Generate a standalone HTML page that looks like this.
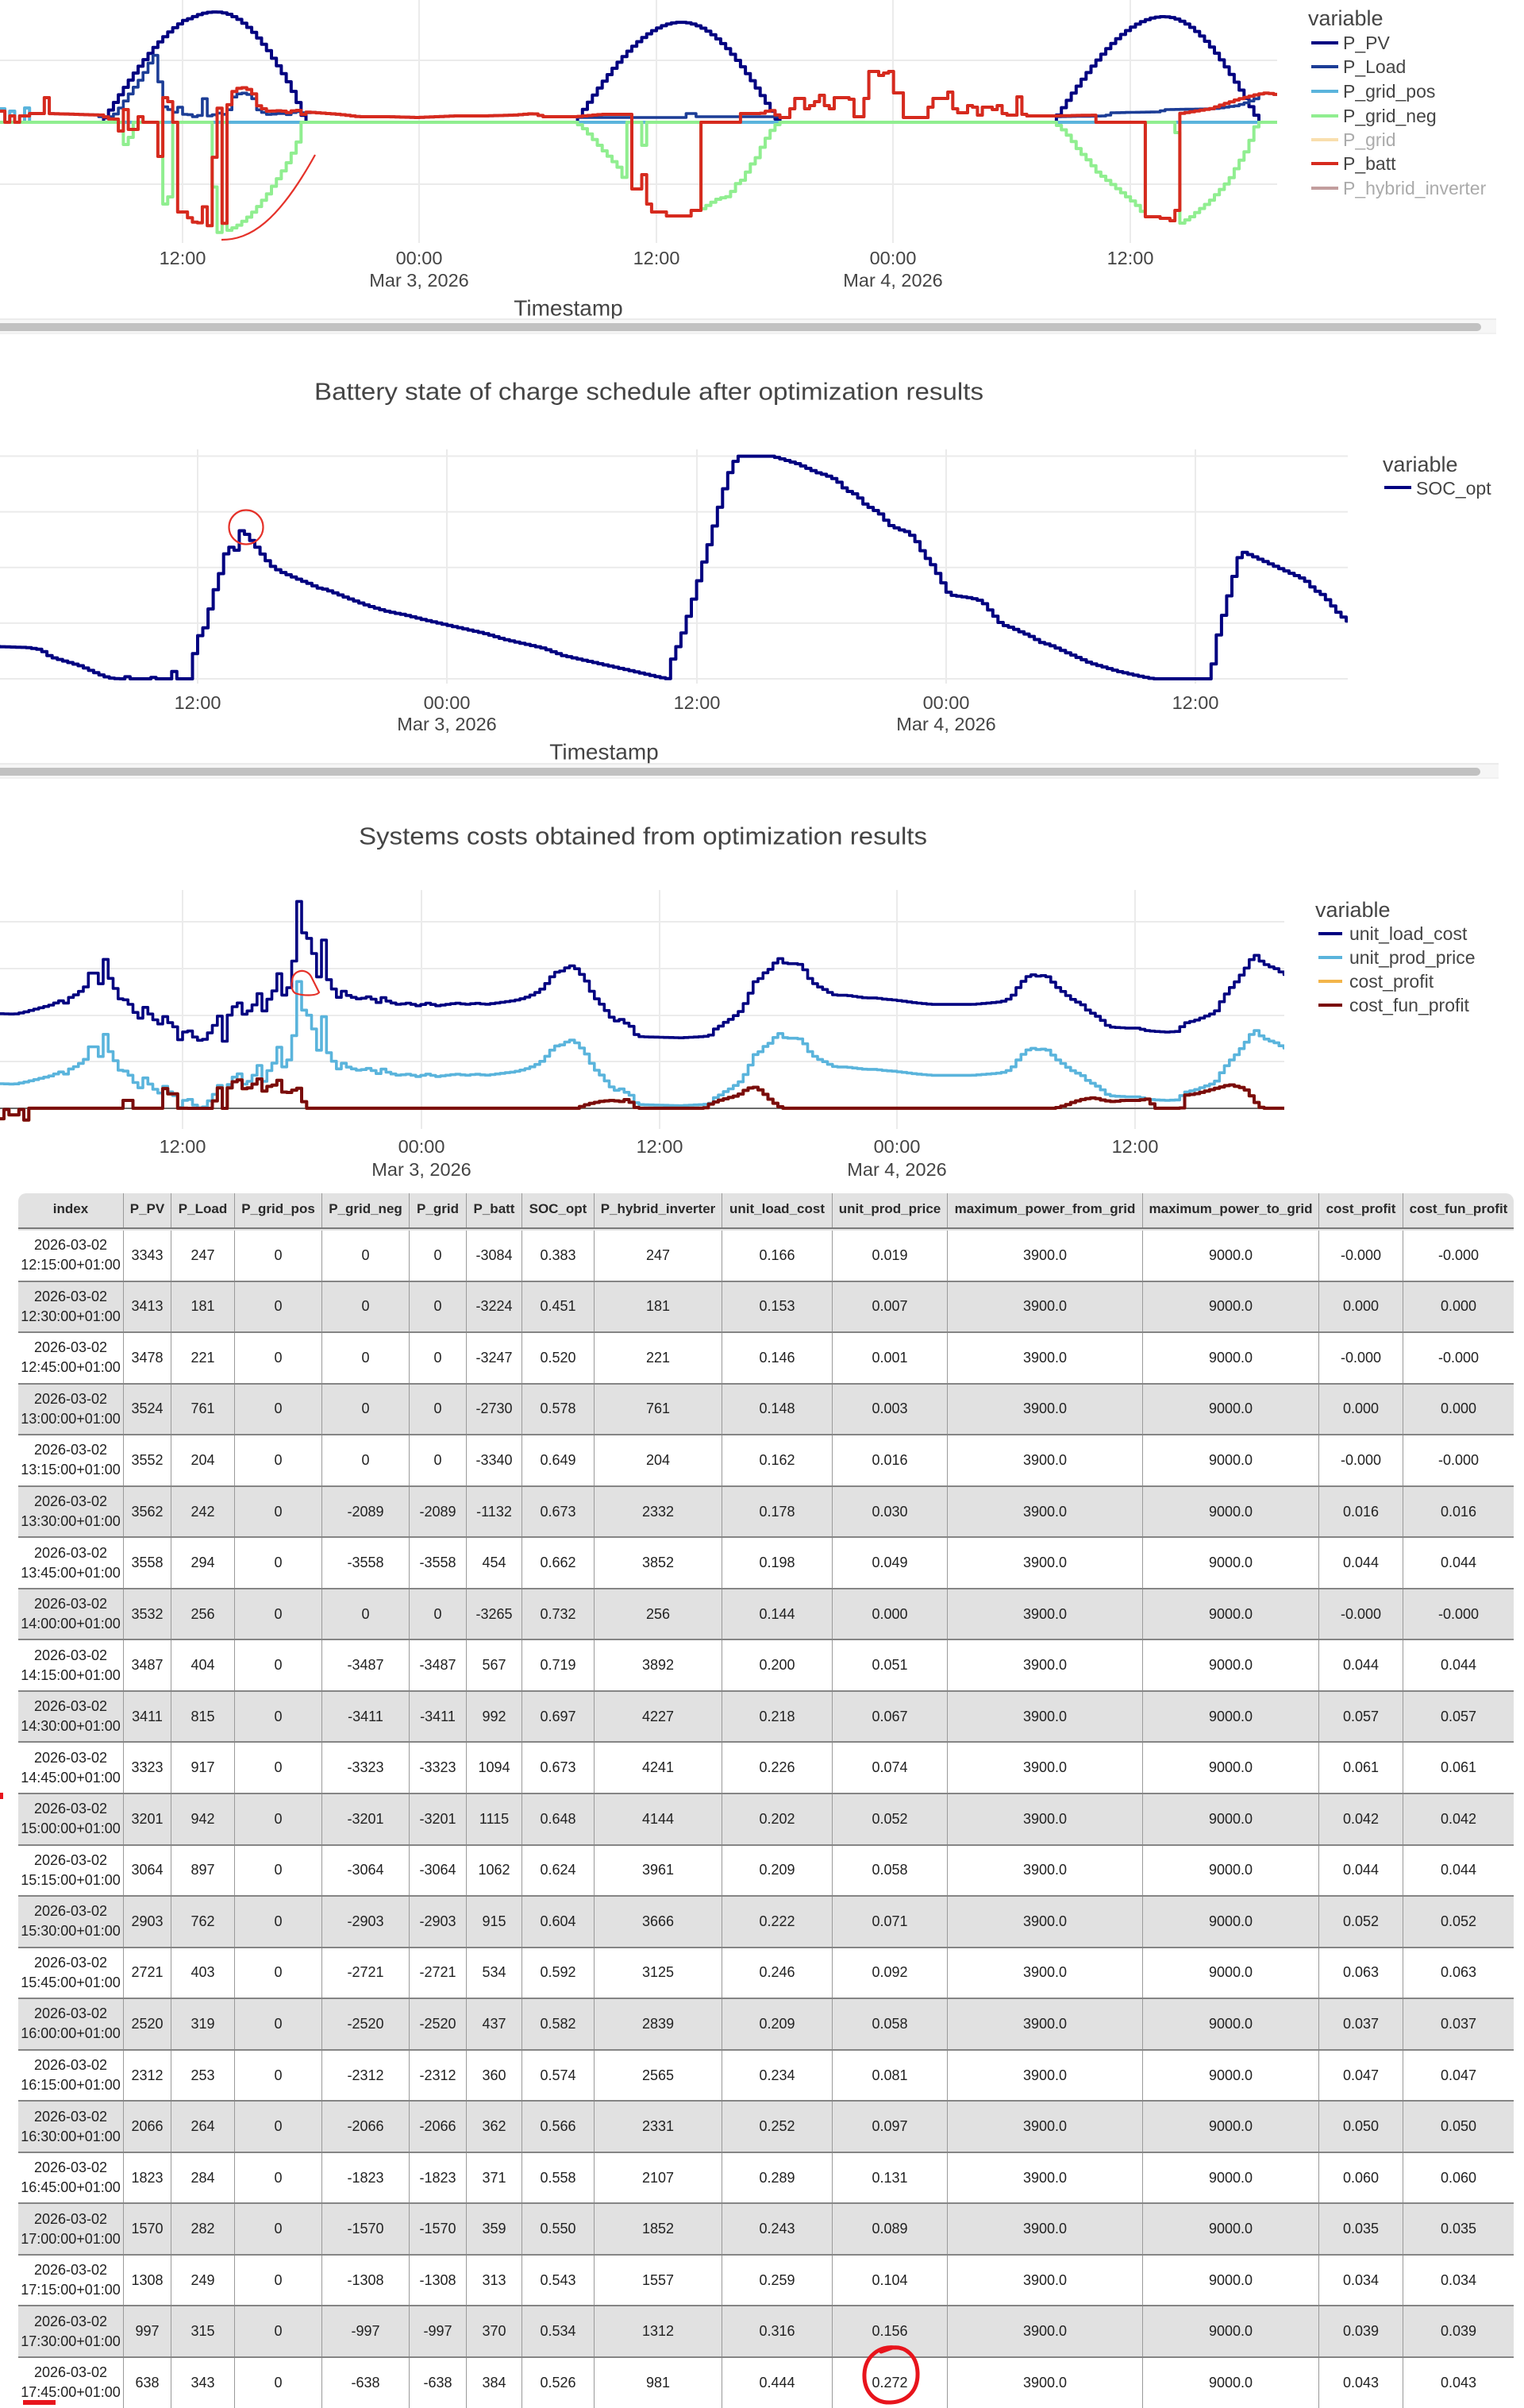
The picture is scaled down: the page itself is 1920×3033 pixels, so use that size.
<!DOCTYPE html>
<html><head><meta charset="utf-8">
<style>
html,body{margin:0;padding:0;background:#fff;}
body{width:1920px;height:3029px;overflow:hidden;position:relative;font-family:"Liberation Sans",Arial,sans-serif;}
#hd{position:absolute;left:23px;top:1503px;width:1884px;height:45px;background:#e2e2e2;border-radius:10px 10px 0 0;border-bottom:2px solid #7a7a7a;box-sizing:border-box;display:flex;font-weight:bold;font-size:17px;color:#2a2a2a;}
#hd i{padding-bottom:5px;}
#rows{position:absolute;left:23px;top:1548px;width:1884px;font-size:18px;color:#222;}
.r{height:64.55px;display:flex;box-sizing:border-box;border-top:2px solid #858585;}
.r:first-child{border-top:2px solid #e4e4e4;}
.r:nth-child(even){background:#e1e1e1;}
.r i,#hd i{font-style:normal;display:flex;align-items:center;justify-content:center;text-align:center;box-sizing:border-box;border-left:1px solid #9a9a9a;line-height:25px;white-space:nowrap;}
.r i:first-child,#hd i:first-child{border-left:none;}
.r i:nth-child(1),#hd i:nth-child(1){width:132px}
.r i:nth-child(2),#hd i:nth-child(2){width:60px}
.r i:nth-child(3),#hd i:nth-child(3){width:80px}
.r i:nth-child(4),#hd i:nth-child(4){width:110px}
.r i:nth-child(5),#hd i:nth-child(5){width:110px}
.r i:nth-child(6),#hd i:nth-child(6){width:72px}
.r i:nth-child(7),#hd i:nth-child(7){width:70px}
.r i:nth-child(8),#hd i:nth-child(8){width:91px}
.r i:nth-child(9),#hd i:nth-child(9){width:161px}
.r i:nth-child(10),#hd i:nth-child(10){width:139px}
.r i:nth-child(11),#hd i:nth-child(11){width:145px}
.r i:nth-child(12),#hd i:nth-child(12){width:246px}
.r i:nth-child(13),#hd i:nth-child(13){width:222px}
.r i:nth-child(14),#hd i:nth-child(14){width:106px}
.r i:nth-child(15),#hd i:nth-child(15){width:140px}
</style></head><body>

<svg id="sv" width="1920" height="1500" viewBox="0 0 1920 1500" style="position:absolute;left:0;top:0" font-family="'Liberation Sans', Arial, sans-serif">
<defs>
<clipPath id="c1"><rect x="0" y="0" width="1609" height="306"/></clipPath>
<clipPath id="c2"><rect x="0" y="556" width="1698" height="310"/></clipPath>
<clipPath id="c3"><rect x="0" y="1115" width="1618" height="310"/></clipPath>
</defs>
<g stroke="#ebebeb" stroke-width="2" fill="none">
<line x1="0" y1="76" x2="1609" y2="76"/><line x1="0" y1="232" x2="1609" y2="232"/>
<line x1="230" y1="0" x2="230" y2="306"/><line x1="528" y1="0" x2="528" y2="306"/><line x1="827" y1="0" x2="827" y2="306"/><line x1="1125" y1="0" x2="1125" y2="306"/><line x1="1424" y1="0" x2="1424" y2="306"/>
<line x1="0" y1="574.5" x2="1698" y2="574.5"/><line x1="0" y1="644.6" x2="1698" y2="644.6"/><line x1="0" y1="714.8" x2="1698" y2="714.8"/><line x1="0" y1="784.9" x2="1698" y2="784.9"/><line x1="0" y1="855" x2="1698" y2="855"/>
<line x1="249" y1="566" x2="249" y2="861"/><line x1="563" y1="566" x2="563" y2="861"/><line x1="878" y1="566" x2="878" y2="861"/><line x1="1192" y1="566" x2="1192" y2="861"/><line x1="1506" y1="566" x2="1506" y2="861"/>
<line x1="0" y1="1161" x2="1618" y2="1161"/><line x1="0" y1="1220" x2="1618" y2="1220"/><line x1="0" y1="1279" x2="1618" y2="1279"/><line x1="0" y1="1337" x2="1618" y2="1337"/>
<line x1="230" y1="1121" x2="230" y2="1422"/><line x1="531" y1="1121" x2="531" y2="1422"/><line x1="831" y1="1121" x2="831" y2="1422"/><line x1="1130" y1="1121" x2="1130" y2="1422"/><line x1="1430" y1="1121" x2="1430" y2="1422"/>
</g>
<line x1="0" y1="1396" x2="1618" y2="1396" stroke="#6a6a6a" stroke-width="2"/>

<g id="g1" clip-path="url(#c1)" stroke-linejoin="round"></g>
<g id="g2" clip-path="url(#c2)" stroke-linejoin="round"></g>
<g id="g3" clip-path="url(#c3)" stroke-linejoin="round"></g>

<g fill="#444" font-size="23.5" text-anchor="middle" dominant-baseline="central">
<text x="230" y="325">12:00</text>
<text x="528" y="325">00:00</text><text x="528" y="353">Mar 3, 2026</text>
<text x="827" y="325">12:00</text>
<text x="1125" y="325">00:00</text><text x="1125" y="353">Mar 4, 2026</text>
<text x="1424" y="325">12:00</text>
<text x="716" y="388" font-size="28">Timestamp</text>

<text x="249" y="885">12:00</text>
<text x="563" y="885">00:00</text><text x="563" y="912">Mar 3, 2026</text>
<text x="878" y="885">12:00</text>
<text x="1192" y="885">00:00</text><text x="1192" y="912">Mar 4, 2026</text>
<text x="1506" y="885">12:00</text>
<text x="761" y="947" font-size="28">Timestamp</text>

<text x="230" y="1444">12:00</text>
<text x="531" y="1444">00:00</text><text x="531" y="1473">Mar 3, 2026</text>
<text x="831" y="1444">12:00</text>
<text x="1130" y="1444">00:00</text><text x="1130" y="1473">Mar 4, 2026</text>
<text x="1430" y="1444">12:00</text>
</g>

<g fill="#444" font-size="31" dominant-baseline="central">
<text x="396" y="493" textLength="843" lengthAdjust="spacingAndGlyphs">Battery state of charge schedule after optimization results</text>
<text x="452" y="1053" textLength="716" lengthAdjust="spacingAndGlyphs">Systems costs obtained from optimization results</text>
</g>

<g fill="#444" font-size="23" dominant-baseline="central">
<text x="1648" y="23" font-size="27">variable</text>
<line x1="1652" y1="54" x2="1686" y2="54" stroke="#000080" stroke-width="4"/><text x="1692" y="54">P_PV</text>
<line x1="1652" y1="84" x2="1686" y2="84" stroke="#1c3d96" stroke-width="4"/><text x="1692" y="84">P_Load</text>
<line x1="1652" y1="115" x2="1686" y2="115" stroke="#5ab4dc" stroke-width="4"/><text x="1692" y="115">P_grid_pos</text>
<line x1="1652" y1="146" x2="1686" y2="146" stroke="#90ee90" stroke-width="4"/><text x="1692" y="146">P_grid_neg</text>
<g opacity="0.45"><line x1="1652" y1="176" x2="1686" y2="176" stroke="#f2b84b" stroke-width="4"/><text x="1692" y="176">P_grid</text></g>
<line x1="1652" y1="206" x2="1686" y2="206" stroke="#d62a1e" stroke-width="4"/><text x="1692" y="206">P_batt</text>
<g opacity="0.45"><line x1="1652" y1="237" x2="1686" y2="237" stroke="#7a2a2a" stroke-width="4"/><text x="1692" y="237">P_hybrid_inverter</text></g>

<text x="1742" y="585" font-size="27">variable</text>
<line x1="1744" y1="614" x2="1778" y2="614" stroke="#000080" stroke-width="4"/><text x="1784" y="615">SOC_opt</text>

<text x="1657" y="1146" font-size="27">variable</text>
<line x1="1661" y1="1176" x2="1691" y2="1176" stroke="#000080" stroke-width="4"/><text x="1700" y="1176">unit_load_cost</text>
<line x1="1661" y1="1206" x2="1691" y2="1206" stroke="#5ab4dc" stroke-width="4"/><text x="1700" y="1206">unit_prod_price</text>
<line x1="1661" y1="1236" x2="1691" y2="1236" stroke="#f3b54a" stroke-width="4"/><text x="1700" y="1236">cost_profit</text>
<line x1="1661" y1="1266" x2="1691" y2="1266" stroke="#7a0c0c" stroke-width="4"/><text x="1700" y="1266">cost_fun_profit</text>
</g>

<rect x="0" y="402" width="1885" height="18" fill="#f6f6f6"/>
<line x1="0" y1="402" x2="1885" y2="402" stroke="#e6e6e6" stroke-width="1.5"/>
<line x1="0" y1="420" x2="1885" y2="420" stroke="#eeeeee" stroke-width="1.5"/>
<rect x="-6" y="407" width="1872" height="10" rx="5" fill="#c1c1c1"/>
<rect x="0" y="962" width="1888" height="18" fill="#f6f6f6"/>
<line x1="0" y1="962" x2="1888" y2="962" stroke="#e6e6e6" stroke-width="1.5"/>
<line x1="0" y1="980" x2="1888" y2="980" stroke="#eeeeee" stroke-width="1.5"/>
<rect x="-6" y="967" width="1871" height="10" rx="5" fill="#c1c1c1"/>

<path d="M279,302 C315,302 350,280 397,195" fill="none" stroke="#e5322a" stroke-width="2.2"/>
<circle cx="310" cy="664" r="21.5" fill="none" stroke="#e5322a" stroke-width="2.2"/>
<path d="M368,1236 C368,1222 385,1218 392,1230 L402,1250 C398,1255 380,1254 372,1251 C367,1248 367,1240 368,1236 Z" fill="none" stroke="#e5322a" stroke-width="2.2"/>
</svg>

<div id="hd"><i>index</i><i>P_PV</i><i>P_Load</i><i>P_grid_pos</i><i>P_grid_neg</i><i>P_grid</i><i>P_batt</i><i>SOC_opt</i><i>P_hybrid_inverter</i><i>unit_load_cost</i><i>unit_prod_price</i><i>maximum_power_from_grid</i><i>maximum_power_to_grid</i><i>cost_profit</i><i>cost_fun_profit</i></div>
<div id="rows">
<div class="r"><i>2026-03-02<br>12:15:00+01:00</i><i>3343</i><i>247</i><i>0</i><i>0</i><i>0</i><i>-3084</i><i>0.383</i><i>247</i><i>0.166</i><i>0.019</i><i>3900.0</i><i>9000.0</i><i>-0.000</i><i>-0.000</i></div>
<div class="r"><i>2026-03-02<br>12:30:00+01:00</i><i>3413</i><i>181</i><i>0</i><i>0</i><i>0</i><i>-3224</i><i>0.451</i><i>181</i><i>0.153</i><i>0.007</i><i>3900.0</i><i>9000.0</i><i>0.000</i><i>0.000</i></div>
<div class="r"><i>2026-03-02<br>12:45:00+01:00</i><i>3478</i><i>221</i><i>0</i><i>0</i><i>0</i><i>-3247</i><i>0.520</i><i>221</i><i>0.146</i><i>0.001</i><i>3900.0</i><i>9000.0</i><i>-0.000</i><i>-0.000</i></div>
<div class="r"><i>2026-03-02<br>13:00:00+01:00</i><i>3524</i><i>761</i><i>0</i><i>0</i><i>0</i><i>-2730</i><i>0.578</i><i>761</i><i>0.148</i><i>0.003</i><i>3900.0</i><i>9000.0</i><i>0.000</i><i>0.000</i></div>
<div class="r"><i>2026-03-02<br>13:15:00+01:00</i><i>3552</i><i>204</i><i>0</i><i>0</i><i>0</i><i>-3340</i><i>0.649</i><i>204</i><i>0.162</i><i>0.016</i><i>3900.0</i><i>9000.0</i><i>-0.000</i><i>-0.000</i></div>
<div class="r"><i>2026-03-02<br>13:30:00+01:00</i><i>3562</i><i>242</i><i>0</i><i>-2089</i><i>-2089</i><i>-1132</i><i>0.673</i><i>2332</i><i>0.178</i><i>0.030</i><i>3900.0</i><i>9000.0</i><i>0.016</i><i>0.016</i></div>
<div class="r"><i>2026-03-02<br>13:45:00+01:00</i><i>3558</i><i>294</i><i>0</i><i>-3558</i><i>-3558</i><i>454</i><i>0.662</i><i>3852</i><i>0.198</i><i>0.049</i><i>3900.0</i><i>9000.0</i><i>0.044</i><i>0.044</i></div>
<div class="r"><i>2026-03-02<br>14:00:00+01:00</i><i>3532</i><i>256</i><i>0</i><i>0</i><i>0</i><i>-3265</i><i>0.732</i><i>256</i><i>0.144</i><i>0.000</i><i>3900.0</i><i>9000.0</i><i>-0.000</i><i>-0.000</i></div>
<div class="r"><i>2026-03-02<br>14:15:00+01:00</i><i>3487</i><i>404</i><i>0</i><i>-3487</i><i>-3487</i><i>567</i><i>0.719</i><i>3892</i><i>0.200</i><i>0.051</i><i>3900.0</i><i>9000.0</i><i>0.044</i><i>0.044</i></div>
<div class="r"><i>2026-03-02<br>14:30:00+01:00</i><i>3411</i><i>815</i><i>0</i><i>-3411</i><i>-3411</i><i>992</i><i>0.697</i><i>4227</i><i>0.218</i><i>0.067</i><i>3900.0</i><i>9000.0</i><i>0.057</i><i>0.057</i></div>
<div class="r"><i>2026-03-02<br>14:45:00+01:00</i><i>3323</i><i>917</i><i>0</i><i>-3323</i><i>-3323</i><i>1094</i><i>0.673</i><i>4241</i><i>0.226</i><i>0.074</i><i>3900.0</i><i>9000.0</i><i>0.061</i><i>0.061</i></div>
<div class="r"><i>2026-03-02<br>15:00:00+01:00</i><i>3201</i><i>942</i><i>0</i><i>-3201</i><i>-3201</i><i>1115</i><i>0.648</i><i>4144</i><i>0.202</i><i>0.052</i><i>3900.0</i><i>9000.0</i><i>0.042</i><i>0.042</i></div>
<div class="r"><i>2026-03-02<br>15:15:00+01:00</i><i>3064</i><i>897</i><i>0</i><i>-3064</i><i>-3064</i><i>1062</i><i>0.624</i><i>3961</i><i>0.209</i><i>0.058</i><i>3900.0</i><i>9000.0</i><i>0.044</i><i>0.044</i></div>
<div class="r"><i>2026-03-02<br>15:30:00+01:00</i><i>2903</i><i>762</i><i>0</i><i>-2903</i><i>-2903</i><i>915</i><i>0.604</i><i>3666</i><i>0.222</i><i>0.071</i><i>3900.0</i><i>9000.0</i><i>0.052</i><i>0.052</i></div>
<div class="r"><i>2026-03-02<br>15:45:00+01:00</i><i>2721</i><i>403</i><i>0</i><i>-2721</i><i>-2721</i><i>534</i><i>0.592</i><i>3125</i><i>0.246</i><i>0.092</i><i>3900.0</i><i>9000.0</i><i>0.063</i><i>0.063</i></div>
<div class="r"><i>2026-03-02<br>16:00:00+01:00</i><i>2520</i><i>319</i><i>0</i><i>-2520</i><i>-2520</i><i>437</i><i>0.582</i><i>2839</i><i>0.209</i><i>0.058</i><i>3900.0</i><i>9000.0</i><i>0.037</i><i>0.037</i></div>
<div class="r"><i>2026-03-02<br>16:15:00+01:00</i><i>2312</i><i>253</i><i>0</i><i>-2312</i><i>-2312</i><i>360</i><i>0.574</i><i>2565</i><i>0.234</i><i>0.081</i><i>3900.0</i><i>9000.0</i><i>0.047</i><i>0.047</i></div>
<div class="r"><i>2026-03-02<br>16:30:00+01:00</i><i>2066</i><i>264</i><i>0</i><i>-2066</i><i>-2066</i><i>362</i><i>0.566</i><i>2331</i><i>0.252</i><i>0.097</i><i>3900.0</i><i>9000.0</i><i>0.050</i><i>0.050</i></div>
<div class="r"><i>2026-03-02<br>16:45:00+01:00</i><i>1823</i><i>284</i><i>0</i><i>-1823</i><i>-1823</i><i>371</i><i>0.558</i><i>2107</i><i>0.289</i><i>0.131</i><i>3900.0</i><i>9000.0</i><i>0.060</i><i>0.060</i></div>
<div class="r"><i>2026-03-02<br>17:00:00+01:00</i><i>1570</i><i>282</i><i>0</i><i>-1570</i><i>-1570</i><i>359</i><i>0.550</i><i>1852</i><i>0.243</i><i>0.089</i><i>3900.0</i><i>9000.0</i><i>0.035</i><i>0.035</i></div>
<div class="r"><i>2026-03-02<br>17:15:00+01:00</i><i>1308</i><i>249</i><i>0</i><i>-1308</i><i>-1308</i><i>313</i><i>0.543</i><i>1557</i><i>0.259</i><i>0.104</i><i>3900.0</i><i>9000.0</i><i>0.034</i><i>0.034</i></div>
<div class="r"><i>2026-03-02<br>17:30:00+01:00</i><i>997</i><i>315</i><i>0</i><i>-997</i><i>-997</i><i>370</i><i>0.534</i><i>1312</i><i>0.316</i><i>0.156</i><i>3900.0</i><i>9000.0</i><i>0.039</i><i>0.039</i></div>
<div class="r"><i>2026-03-02<br>17:45:00+01:00</i><i>638</i><i>343</i><i>0</i><i>-638</i><i>-638</i><i>384</i><i>0.526</i><i>981</i><i>0.444</i><i>0.272</i><i>3900.0</i><i>9000.0</i><i>0.043</i><i>0.043</i></div>
</div>

<svg width="1920" height="3029" style="position:absolute;left:0;top:0;pointer-events:none">
<rect x="0" y="2258" width="4" height="8" fill="#e8141c"/>
<rect x="29" y="3023" width="41" height="6" fill="#e8141c"/>
<path d="M1128,2957 C1108,2954 1090,2968 1089,2990 C1088,3012 1102,3027 1122,3026 C1144,3025 1157,3010 1156,2988 C1155,2968 1142,2955 1124,2957 L1110,2962" fill="none" stroke="#e8141c" stroke-width="5" stroke-linecap="round"/>
</svg>

<script>
(function(){
var NS='http://www.w3.org/2000/svg';
function interp(p,x){var n=p.length;if(x<=p[0][0])return p[0][1];if(x>=p[n-1][0])return p[n-1][1];for(var i=n-2;i>=0;i--){if(p[i][0]<=x){var a=p[i],b=p[i+1];if(b[0]===a[0])return b[1];return a[1]+(b[1]-a[1])*(x-a[0])/(b[0]-a[0]);}}return p[0][1];}
function H(l){var o=[];for(var i=0;i<l.length;i++){o.push([l[i][0],l[i][1]]);if(i<l.length-1)o.push([l[i+1][0],l[i][1]]);}return o;}
function cat(){var o=[];for(var i=0;i<arguments.length;i++)o=o.concat(arguments[i]);return o;}
function build(x12,dx,K,k0,k1,f,over){var d='';for(var k=k0;k<=k1;k++){var xs=x12+(k-K)*dx;var y=(over&&over[k]!==undefined)?over[k]:f(xs+dx/2);d+=(k===k0?'M'+xs.toFixed(1)+','+y.toFixed(1):'H'+xs.toFixed(1)+'V'+y.toFixed(1));}d+='H'+(x12+(k1+1-K)*dx).toFixed(1);return d;}
function add(g,d,c,w,op){var p=document.createElementNS(NS,'path');p.setAttribute('d',d);p.setAttribute('fill','none');p.setAttribute('stroke',c);p.setAttribute('stroke-width',w);if(op)p.setAttribute('opacity',op);document.getElementById(g).appendChild(p);}
function tab(a,K0,cv){var o={};for(var j=0;j<a.length;j++)o[K0+j]=cv(a[j]);return o;}

var PV=[3343,3413,3478,3524,3552,3562,3558,3532,3487,3411,3323,3201,3064,2903,2721,2520,2312,2066,1823,1570,1308,997,638];
var LD=[247,181,221,761,204,242,294,256,404,815,917,942,897,762,403,319,253,264,284,282,249,315,343];
var GN=[0,0,0,0,0,-2089,-3558,0,-3487,-3411,-3323,-3201,-3064,-2903,-2721,-2520,-2312,-2066,-1823,-1570,-1308,-997,-638];
var BT=[-3084,-3224,-3247,-2730,-3340,-1132,454,-3265,567,992,1094,1115,1062,915,534,437,360,362,371,359,313,370,384];
var SOC=[0.383,0.451,0.520,0.578,0.649,0.673,0.662,0.732,0.719,0.697,0.673,0.648,0.624,0.604,0.592,0.582,0.574,0.566,0.558,0.550,0.543,0.534,0.526];
var ULC=[0.166,0.153,0.146,0.148,0.162,0.178,0.198,0.144,0.200,0.218,0.226,0.202,0.209,0.222,0.246,0.209,0.234,0.252,0.289,0.243,0.259,0.316,0.444];
var UPP=[0.019,0.007,0.001,0.003,0.016,0.030,0.049,0.000,0.051,0.067,0.074,0.052,0.058,0.071,0.092,0.058,0.081,0.097,0.131,0.089,0.104,0.156,0.272];
var CFP=[0,0,0,0,0,0.016,0.044,0,0.044,0.057,0.061,0.042,0.044,0.052,0.063,0.037,0.047,0.050,0.060,0.035,0.034,0.039,0.043];

var Y1=function(w){return 154-0.039*w;};
var arches=[[130,270,387,14],[726,859,982,28],[1328,1467,1588,21]];
function pvY(x){for(var i=0;i<3;i++){var a=arches[i];if(x>=a[0]&&x<=a[2]){var f=x<a[1]?Math.sin(Math.PI/2*(x-a[0])/(a[1]-a[0])):Math.sin(Math.PI/2*(a[2]-x)/(a[2]-a[1]));return 154-(154-a[3])*f;}}return 154;}
var batt1=cat(
 H([[-10,140],[4,154],[10,146],[16,154],[25,146],[38,143],[55,123],[62,143]]),
 [[130,145],[135,148]],
 H([[140,150],[147,165],[153,138],[160,154],[163,163],[173,147],[180,154],[197,197],[204,123],[210,128],[215,143],[220,154],[223,267],[236,267]]),
 [[386,141],[428,144],[453,147],[490,147],[526,148],[575,146],[612,146],[649,145],[673,143],[686,147],[726,147],[760,144],[794,144]],
 H([[794,238],[806,220],[815,257],[824,267],[842,272],[871,265],[883,154],[924,140],[927,154],[933,143],[960,143]]),
 [[972,138]],
 H([[983,148],[995,137],[1001,124],[1013,137],[1019,133],[1024.5,128],[1030,120],[1036,133],[1042,137],[1054,123],[1072,125],[1078,147],[1089,124],[1095,90],[1107,95],[1113,92],[1119,98],[1122,90],[1128,117],[1140,148],[1172,135],[1178,124],[1196,116],[1201.5,137],[1207,142],[1219,133],[1225,135],[1234,145],[1240,135],[1249,138],[1257.5,133],[1263,143],[1269,145],[1284,122],[1290,144],[1296,146]]),
 [[1328,146],[1381,145]],
 H([[1381,154],[1446,273],[1461,275],[1473,278],[1482,265],[1488,143]]),
 [[1526,137],[1561,125],[1573,122],[1585,119],[1597,117],[1625,122]]
);
var L0=[[125,147],[140,147],[147,143],[153,135],[160,125],[167,115],[173,107],[180,97],[187,85],[193,72],[199,67],[201,67],[202,103],[205,133],[213,137],[220,142],[227,135],[233,144],[390,142]];
var L1=H([[726,148],[866,143],[877,147],[983,147]]);
var L2=[[1328,147],[1395,146],[1400,142],[1460,141],[1470,138],[1530,137],[1560,133],[1575,128],[1588,122]];
function loadY(x){if(x>=125&&x<=390)return interp(L0,x);if(x>=726&&x<=983)return interp(L1,x);if(x>=1328&&x<=1588)return interp(L2,x);return interp(batt1,x);}
var gpos1=H([[-10,137],[7,154],[10,138],[15,140],[20,154],[28,136],[38,154],[1700,154]]);
var gneg1=cat(
 H([[-10,154],[153,182],[160,173],[167,163],[170,154],[204,257],[210,248],[220,154]]),
 [[390,154],[726,154],[735,160],[747,173],[759,187],[771,200],[782.6,213],[788.5,228],[792.6,228]],
 H([[792.6,154],[808,183],[815,154],[883,265]]),
 [[895,257],[906.5,250],[921,247],[927,233],[936,227],[942,217],[948,207],[954,200],[960,187],[965.5,177],[971,167],[977,160],[982,154],[1328,154],[1337,160],[1349,173],[1361,190],[1373,203],[1384,217],[1396,227],[1408,237],[1420,247],[1432,257],[1440.5,267],[1446,267]],
 H([[1446,154],[1482,167],[1486,154],[1488,282]]),
 [[1491,280],[1502,273],[1514,263],[1526,253],[1538,240],[1550,227],[1561,207],[1573,187],[1579,170],[1585,154],[1700,154]]
);
var A=[230,6.22,37,-1,260];
add('g1',build(A[0],A[1],A[2],A[3],A[4],pvY,tab(PV,38,Y1)),'#000080',4);
add('g1',build(A[0],A[1],A[2],A[3],A[4],loadY,tab(LD,38,Y1)),'#1c3d96',3.6);
add('g1',build(A[0],A[1],A[2],A[3],A[4],function(x){return interp(gpos1,x);},tab(GN.map(function(){return 0;}),38,Y1)),'#5ab4dc',4);
add('g1',build(A[0],A[1],A[2],A[3],A[4],function(x){return interp(gneg1,x);},tab(GN,38,Y1)),'#90ee90',4);
add('g1',build(A[0],A[1],A[2],A[3],A[4],function(x){return interp(batt1,x);},tab(BT,38,Y1)),'#d62a1e',4);

var S2=function(s){return 855-(s-0.2)*350.6;};
var socZ=[[-5,1065],[0,1065],[30,1068],[45,1075],[55,1100],[65,1110],[75,1120],[85,1130],[95,1145],[105,1160],[115,1172],[125,1175],[130,1175],[133,1168],[137,1168],[138,1175],[155,1175],[156,1170],[160,1170],[161,1175],[176,1175],[177,1150],[182,1150],[183,1175],[199,1175],[200,1115],[205,1060],[210,1000],[215,940],[220,875],[330,862],[345,880],[360,900],[380,925],[400,945],[420,958],[440,975],[460,990],[480,1005],[500,1020],[520,1040],[540,1055],[560,1070],[580,1095],[600,1110],[620,1125],[640,1140],[660,1155],[680,1170],[688,1175],[690,1130],[695,1085],[700,1050],[705,1000],[710,945],[715,890],[720,830],[725,770],[730,715],[735,655],[740,595],[745,535],[750,480],[755,440],[760,415],[795,415],[800,420],[810,430],[820,440],[830,455],[840,470],[850,480],[860,495],[865,510],[870,530],[880,545],[885,560],[890,580],[900,600],[905,610],[910,630],[915,650],[925,665],[935,675],[945,715],[950,750],[960,790],[965,820],[970,850],[975,880],[980,890],[1000,900],[1010,910],[1015,930],[1020,950],[1025,970],[1030,990],[1040,1000],[1050,1015],[1060,1030],[1070,1050],[1080,1060],[1090,1075],[1100,1090],[1110,1105],[1120,1120],[1135,1135],[1150,1150],[1170,1165],[1185,1175],[1245,1175],[1247,1110],[1250,1050],[1255,985],[1260,925],[1265,860],[1270,800],[1275,740],[1280,745],[1290,760],[1300,775],[1310,790],[1320,805],[1330,820],[1340,835],[1345,850],[1350,870],[1360,890],[1365,910],[1370,930],[1375,950],[1380,965],[1388,985],[1400,1000]];
var soc2=socZ.map(function(p){return [1.229*p[0]-3, 855-(1175-p[1])*0.369];});
add('g2',build(249,6.5475,38,-1,260,function(x){return interp(soc2,x);},tab(SOC,39,S2)),'#000080',4);

var V3=function(v){return 1396-v*587;};
function z3(l){return l.map(function(p){return [1.2257*p[0],1002+0.331*p[1]];});}
var ulcZ=[[-10,830],[0,830],[15,832],[25,825],[35,815],[45,805],[55,795],[62,780],[68,790],[72,770],[80,755],[88,730],[92,700],[95,645],[100,690],[104,720],[108,615],[114,700],[118,730],[122,750],[126,800],[130,770],[135,800],[140,830],[145,850],[150,800],[155,835],[160,855],[165,870],[170,840],[175,865],[180,880],[185,930],[190,900],[195,896],
[305,402],[310,402],[312,520],[318,545],[322,545],[324,690],[328,690],[330,550],[336,550],[338,700],[343,735],[348,770],[352,740],[358,760],[365,770],[370,775],[380,765],[390,790],[395,765],[400,785],[410,795],[420,790],[430,800],[440,790],[450,800],[460,795],[470,790],[480,795],[490,790],[500,795],[510,790],[520,785],[530,780],[540,770],[550,755],[560,730],[565,700],[570,680],[575,665],[580,670],[585,645],[590,650],[595,665],[600,690],[605,715],[610,760],[615,780],[620,800],[625,825],[630,850],[635,860],[640,850],[645,870],[650,880],[655,915],[660,918],[680,920],[700,922],[720,918],[730,915],[735,890],[740,880],[745,865],[750,855],[755,840],[760,830],[765,800],[770,770],[775,710],[780,705],[785,680],[790,665],[795,655],[800,610],[805,635],[810,640],[820,640],[825,645],[830,680],[835,710],[840,720],[845,735],[850,740],[855,755],[860,760],[870,760],[880,765],[890,770],[900,770],[910,775],[920,778],[930,783],[940,788],[950,792],[960,795],[980,795],[1000,795],[1015,790],[1030,785],[1040,770],[1045,740],[1050,715],[1055,695],[1060,680],[1065,685],[1070,690],[1075,680],[1080,700],[1085,720],[1090,740],[1095,750],[1100,770],[1105,780],[1110,790],[1115,800],[1120,825],[1125,830],[1130,845],[1135,860],[1140,880],[1150,883],[1160,885],[1170,885],[1175,890],[1180,895],[1190,898],[1200,900],[1210,898],[1215,880],[1220,865],[1230,855],[1240,840],[1250,825],[1255,790],[1260,760],[1265,735],[1270,715],[1275,690],[1280,665],[1285,635],[1290,600],[1295,625],[1300,640],[1305,650],[1310,655],[1315,665],[1320,680],[1340,690]];
var ulc3=z3(ulcZ);
function ulcY(x){return interp(ulc3,x);}
function uppY(x){var v=(1396-ulcY(x))/587;var p=Math.max(0,0.91*v-0.132);return 1396-p*587;}
var cfpZ=cat(
 H([[-10,1230],[5,1195],[10,1215],[20,1195],[25,1235],[30,1190],[128,1160],[135,1190],[165,1115],[172,1135],[182,1190]]),
 [[195,1190],[300,1190]],
 H([[310,1165],[315,1190]]),
 [[595,1190],[600,1180],[610,1170],[620,1163],[630,1160],[640,1165],[645,1155],[650,1170],[655,1190],[725,1190],[730,1175],[740,1160],[750,1150],[760,1140],[765,1125],[770,1115],[775,1108],[780,1115],[785,1130],[790,1150],[795,1165],[800,1180],[805,1190],[1085,1190],[1095,1180],[1105,1165],[1115,1155],[1125,1150],[1135,1160],[1145,1165],[1155,1160],[1170,1160],[1180,1155],[1184,1155],[1185,1190],[1215,1190],[1220,1140],[1230,1135],[1240,1125],[1250,1115],[1260,1105],[1265,1100],[1270,1105],[1280,1115],[1285,1135],[1290,1160],[1295,1185],[1300,1190],[1340,1190]]
);
var cfp3=z3(cfpZ);
var B=[230,6.25,37,-1,259];
add('g3',build(B[0],B[1],B[2],B[3],B[4],ulcY,tab(ULC,38,V3)),'#000080',3.6);
add('g3',build(B[0],B[1],B[2],B[3],B[4],uppY,tab(UPP,38,V3)),'#5ab4dc',3.6);
var dC=build(B[0],B[1],B[2],B[3],B[4],function(x){return interp(cfp3,x);},tab(CFP,38,V3));
add('g3',dC,'#f3b54a',4);
add('g3',dC,'#7a0c0c',4);
})();
</script>
</body></html>
